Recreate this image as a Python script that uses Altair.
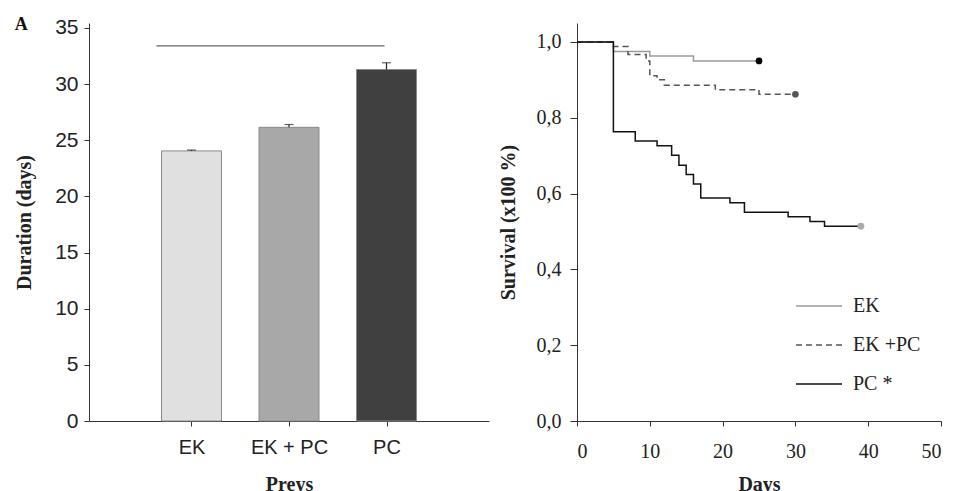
import json
import altair as alt
import pandas as pd

# ---------------- data: panel A (bars) ----------------
categories = ["EK", "EK + PC", "PC"]
durations = [24.05, 26.15, 31.3]
errors = [0.08, 0.25, 0.6]
bracket_x = [0.64, 2.98]
bracket_y = [33.4]

# ---------------- data: survival curves ----------------
groups = ["EK", "EK +PC", "PC *"]
ek_days = [0, 5, 10, 16, 25]
ek_surv = [1.0, 0.975, 0.963, 0.95, 0.95]
ekpc_days = [0, 5, 7, 9.5, 10, 11, 12, 19, 25, 30]
ekpc_surv = [1.0, 0.988, 0.967, 0.95, 0.911, 0.90, 0.886, 0.874, 0.862, 0.862]
pc_days = [0, 5, 8, 11, 13, 14, 15, 16, 17, 21, 23, 29, 32, 34, 39]
pc_surv = [1.0, 0.763, 0.739, 0.726, 0.701, 0.675, 0.650, 0.625, 0.588,
           0.576, 0.551, 0.539, 0.526, 0.514, 0.514]

SERIF = "Liberation Serif"
SANS = "Liberation Sans"

# ---------------- panel A ----------------
idx = list(range(1, len(categories) + 1))
bar_df = pd.DataFrame({
    "idx": idx,
    "cat": categories,
    "dur": durations,
    "hi": [d + e for d, e in zip(durations, errors)],
})
label_expr = "[" + ",".join(json.dumps(c) for c in [""] + categories) + "][datum.value]"

xA = alt.X("idx:Q", scale=alt.Scale(domain=[0, 4], nice=False, zero=False),
           axis=alt.Axis(values=idx, labelExpr=label_expr, title="Preys", grid=False,
                         labelFont=SANS, labelFontSize=20, labelColor="#222",
                         labelPadding=11, tickSize=5, tickColor="#333", domainColor="#333",
                         titleFont=SERIF, titleFontWeight="bold", titleFontSize=20,
                         titleColor="#222", titlePadding=17))
yA = alt.Y("dur:Q", scale=alt.Scale(domain=[0, 35.44], nice=False),
           axis=alt.Axis(values=[0, 5, 10, 15, 20, 25, 30, 35], title="Duration (days)",
                         grid=False, labelFont=SANS, labelFontSize=21, labelColor="#222",
                         labelPadding=6, tickSize=5, tickColor="#333", domainColor="#333",
                         titleFont=SERIF, titleFontWeight="bold", titleFontSize=20,
                         titleColor="#222", titlePadding=20))

bars = alt.Chart(bar_df).mark_bar(size=60, stroke="#8a8a8a", strokeWidth=1).encode(
    x=xA, y=yA,
    color=alt.Color("cat:N", scale=alt.Scale(domain=categories,
                    range=["#e0e0e0", "#a8a8a8", "#404040"]), legend=None),
)
err = alt.Chart(bar_df).mark_rule(color="#222", strokeWidth=1.2).encode(
    x="idx:Q", y="dur:Q", y2="hi:Q")
cap = alt.Chart(bar_df).mark_tick(orient="horizontal", size=9, thickness=1.2, color="#222").encode(
    x="idx:Q", y="hi:Q")
br_df = pd.DataFrame({"x1": [bracket_x[0]], "x2": [bracket_x[1]], "y": bracket_y})
bracket = alt.Chart(br_df).mark_rule(color="#666", strokeWidth=1.2).encode(
    x="x1:Q", x2="x2:Q", y="y:Q")

left = alt.layer(bars, err, cap, bracket).properties(
    width=400, height=398,
    title=alt.TitleParams("A", anchor="start", frame="bounds", font=SERIF,
                          fontWeight="bold", fontSize=18, color="#111", offset=-17),
)

# ---------------- survival panel ----------------
rows = []
for g, days, surv in zip(groups, [ek_days, ekpc_days, pc_days], [ek_surv, ekpc_surv, pc_surv]):
    for d, s in zip(days, surv):
        rows.append({"group": g, "day": d, "surv": s})
surv_df = pd.DataFrame(rows)
end_df = surv_df.groupby("group", as_index=False).last()

xB = alt.X("day:Q", scale=alt.Scale(domain=[0, 50], nice=False),
           axis=alt.Axis(values=[0, 10, 20, 30, 40, 50], title="Days", grid=False,
                         labelFont=SERIF, labelFontSize=20, labelColor="#222",
                         labelPadding=15, tickSize=5, tickColor="#333", domainColor="#333",
                         titleFont=SERIF, titleFontWeight="bold", titleFontSize=20,
                         titleColor="#222", titlePadding=13))
yB = alt.Y("surv:Q", scale=alt.Scale(domain=[0, 1.05], nice=False),
           axis=alt.Axis(values=[0, 0.2, 0.4, 0.6, 0.8, 1.0],
                         labelExpr="replace(format(datum.value, '.1f'), '.', ',')",
                         title="Survival (x100 %)", grid=False,
                         labelFont=SERIF, labelFontSize=20, labelColor="#222",
                         labelPadding=9, tickSize=7, tickColor="#333", domainColor="#333",
                         titleFont=SERIF, titleFontWeight="bold", titleFontSize=20,
                         titleColor="#222", titlePadding=18))

legend = alt.Legend(title=None, orient="none", legendX=218, legendY=259,
                    symbolType="stroke", symbolSize=2116, symbolStrokeWidth=1.5,
                    labelFont=SERIF, labelFontSize=20, labelColor="#222",
                    labelOffset=10, rowPadding=5)

lines = alt.Chart(surv_df).mark_line(interpolate="step-after", strokeWidth=1.5).encode(
    x=xB, y=yB,
    color=alt.Color("group:N", scale=alt.Scale(domain=groups,
                    range=["#9a9a9a", "#555555", "#111111"]), legend=legend),
    strokeDash=alt.StrokeDash("group:N", scale=alt.Scale(domain=groups,
                              range=[[1, 0], [6, 4], [1, 0]]), legend=legend),
)
dots = alt.Chart(end_df).mark_circle(size=45, opacity=1).encode(
    x="day:Q", y="surv:Q",
    fill=alt.Fill("group:N", scale=alt.Scale(domain=groups,
                  range=["#000000", "#555555", "#aaaaaa"]), legend=None),
)
right = alt.layer(lines, dots).resolve_scale(fill="independent").properties(width=364, height=398)

chart = alt.hconcat(left, right, spacing=9).resolve_scale(
    color="independent", fill="independent", strokeDash="independent"
).resolve_legend(color="independent", strokeDash="independent").properties(
    padding={"left": 6, "top": 7, "right": 5, "bottom": 5}
).configure_view(stroke=None)

chart.save("out.html", embed_options={"renderer": "svg", "actions": False})
